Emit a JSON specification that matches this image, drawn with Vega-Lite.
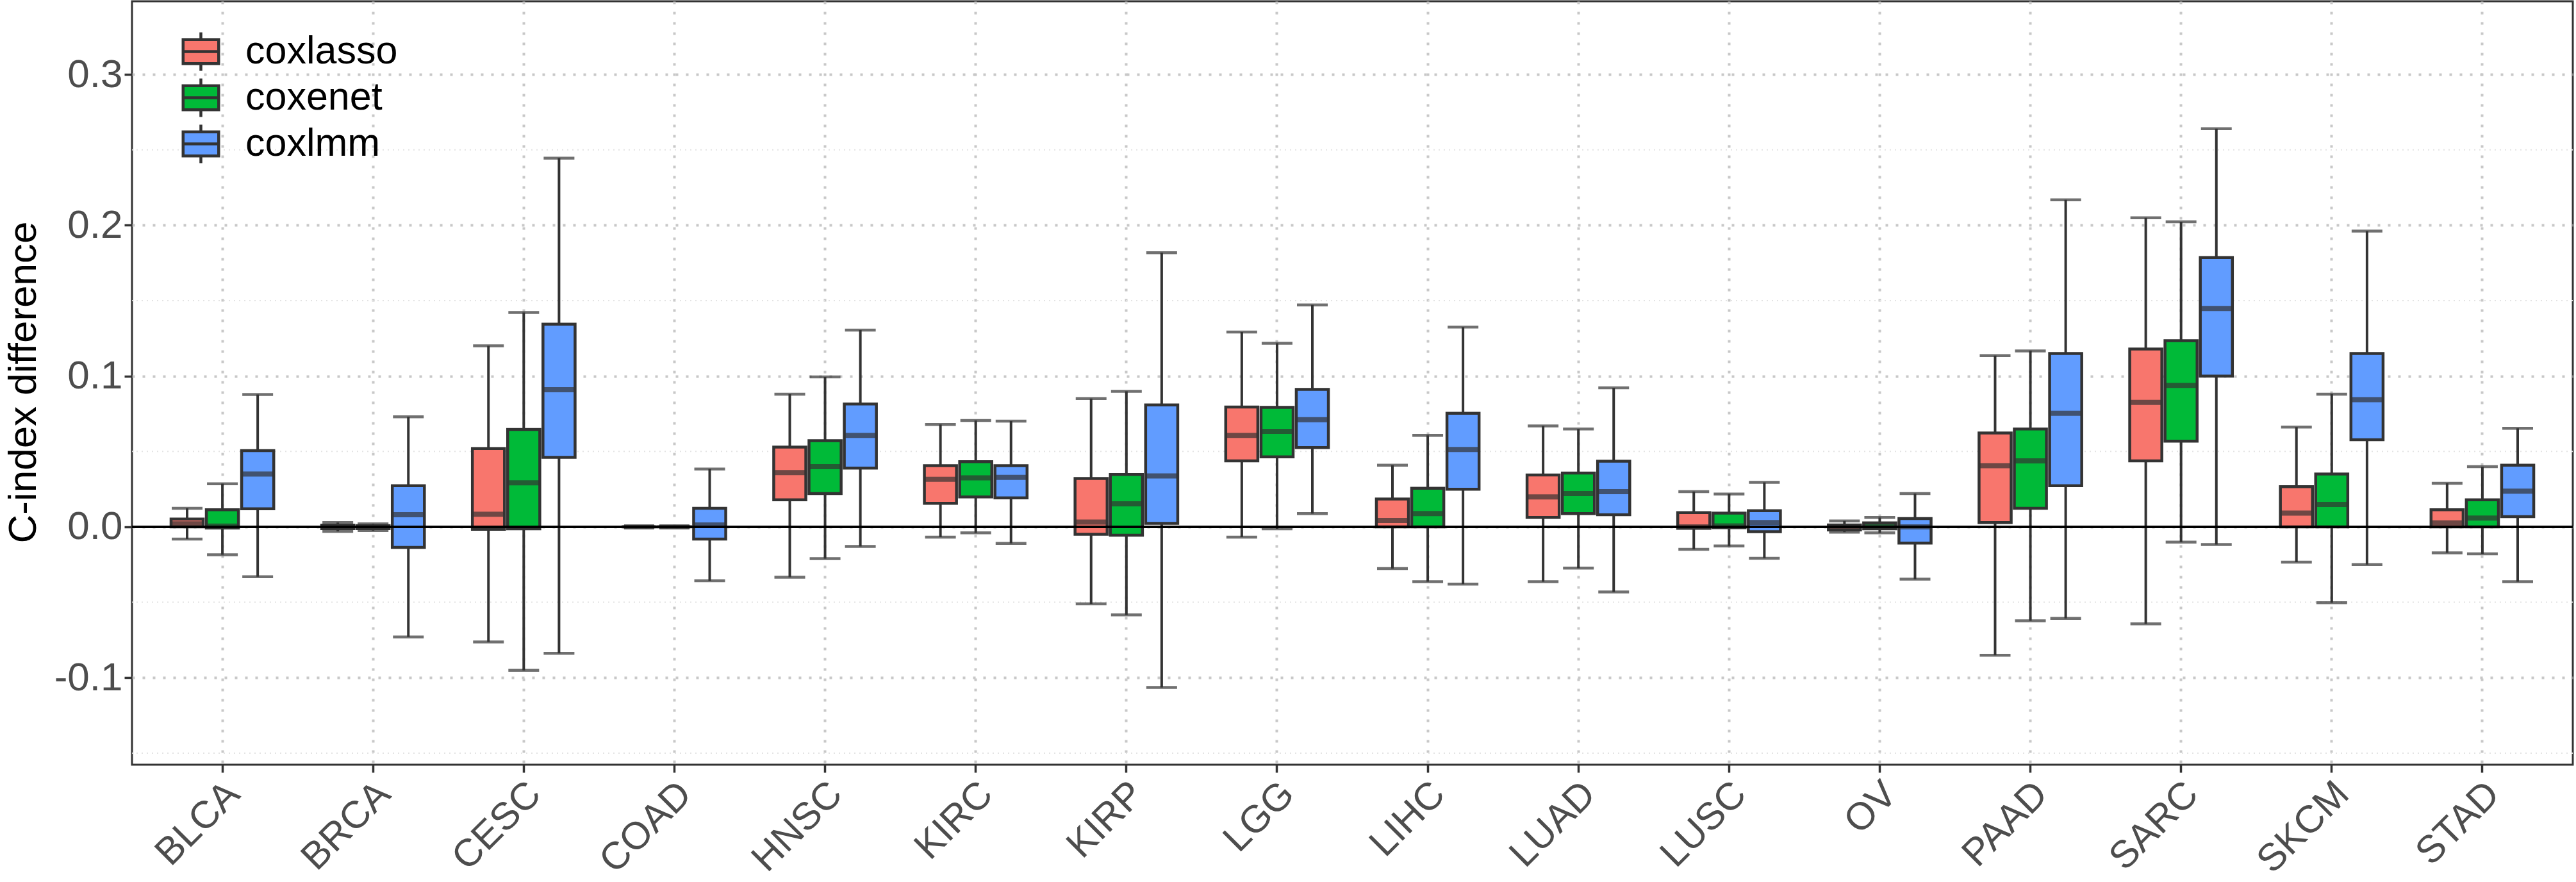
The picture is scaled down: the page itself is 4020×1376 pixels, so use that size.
{
  "$schema": "https://vega.github.io/schema/vega-lite/v6.json",
  "width": 3809,
  "height": 1191,
  "autosize": {"type": "none"},
  "padding": {"left": 206, "top": 2, "right": 5, "bottom": 183},
  "background": "white",
  "config": {
    "font": "Liberation Sans",
    "view": {"stroke": "#333333", "strokeWidth": 3},
    "axis": {
      "domain": false,
      "grid": true,
      "gridColor": "#c8c8c8",
      "gridWidth": 4,
      "gridDash": [4, 12],
      "tickColor": "#333333",
      "tickWidth": 3.5,
      "tickSize": 12,
      "labelFont": "Liberation Sans",
      "labelFontSize": 62,
      "labelColor": "#4D4D4D",
      "titleFont": "Liberation Sans",
      "titleFontWeight": "normal",
      "titleColor": "#000000"
    }
  },
  "data": {
    "values": [
      {"c": "BLCA", "m": "coxlasso", "lo": -0.0081, "q1": 0.0, "med": 0.002, "q3": 0.0052, "hi": 0.0123},
      {"c": "BLCA", "m": "coxenet", "lo": -0.0185, "q1": -0.0008, "med": 0.0005, "q3": 0.0114, "hi": 0.0286},
      {"c": "BLCA", "m": "coxlmm", "lo": -0.0331, "q1": 0.012, "med": 0.0351, "q3": 0.0506, "hi": 0.0877},
      {"c": "BRCA", "m": "coxlasso", "lo": -0.003, "q1": -0.0012, "med": 0.0, "q3": 0.0012, "hi": 0.0029},
      {"c": "BRCA", "m": "coxenet", "lo": -0.0025, "q1": -0.0012, "med": 0.0, "q3": 0.0008, "hi": 0.002},
      {"c": "BRCA", "m": "coxlmm", "lo": -0.073, "q1": -0.0136, "med": 0.0081, "q3": 0.0273, "hi": 0.073},
      {"c": "CESC", "m": "coxlasso", "lo": -0.0763, "q1": -0.0016, "med": 0.0084, "q3": 0.0519, "hi": 0.1201},
      {"c": "CESC", "m": "coxenet", "lo": -0.0951, "q1": -0.0013, "med": 0.0292, "q3": 0.0646, "hi": 0.1422},
      {"c": "CESC", "m": "coxlmm", "lo": -0.0838, "q1": 0.0461, "med": 0.0909, "q3": 0.1344, "hi": 0.2445},
      {"c": "COAD", "m": "coxlasso", "lo": -0.0002, "q1": 0.0, "med": 0.0, "q3": 0.0001, "hi": 0.0003},
      {"c": "COAD", "m": "coxenet", "lo": -0.0002, "q1": 0.0, "med": 0.0, "q3": 0.0001, "hi": 0.0003},
      {"c": "COAD", "m": "coxlmm", "lo": -0.0357, "q1": -0.0081, "med": 0.0013, "q3": 0.0123, "hi": 0.0383},
      {"c": "HNSC", "m": "coxlasso", "lo": -0.0334, "q1": 0.0179, "med": 0.036, "q3": 0.0529, "hi": 0.088},
      {"c": "HNSC", "m": "coxenet", "lo": -0.0211, "q1": 0.0221, "med": 0.0399, "q3": 0.0571, "hi": 0.0994},
      {"c": "HNSC", "m": "coxlmm", "lo": -0.013, "q1": 0.039, "med": 0.0607, "q3": 0.0815, "hi": 0.1305},
      {"c": "KIRC", "m": "coxlasso", "lo": -0.0068, "q1": 0.0156, "med": 0.0315, "q3": 0.0406, "hi": 0.0679},
      {"c": "KIRC", "m": "coxenet", "lo": -0.0039, "q1": 0.0198, "med": 0.0325, "q3": 0.0432, "hi": 0.0705},
      {"c": "KIRC", "m": "coxlmm", "lo": -0.011, "q1": 0.0192, "med": 0.0328, "q3": 0.0406, "hi": 0.0701},
      {"c": "KIRP", "m": "coxlasso", "lo": -0.051, "q1": -0.0049, "med": 0.0032, "q3": 0.0321, "hi": 0.0851},
      {"c": "KIRP", "m": "coxenet", "lo": -0.0584, "q1": -0.0055, "med": 0.0153, "q3": 0.0347, "hi": 0.0899},
      {"c": "KIRP", "m": "coxlmm", "lo": -0.1065, "q1": 0.0023, "med": 0.0338, "q3": 0.0808, "hi": 0.1818},
      {"c": "LGG", "m": "coxlasso", "lo": -0.0068, "q1": 0.0438, "med": 0.0607, "q3": 0.0795, "hi": 0.1292},
      {"c": "LGG", "m": "coxenet", "lo": -0.0013, "q1": 0.0464, "med": 0.0633, "q3": 0.0792, "hi": 0.1218},
      {"c": "LGG", "m": "coxlmm", "lo": 0.0088, "q1": 0.0526, "med": 0.0711, "q3": 0.0912, "hi": 0.1471},
      {"c": "LIHC", "m": "coxlasso", "lo": -0.0276, "q1": 0.0, "med": 0.0042, "q3": 0.0185, "hi": 0.0409},
      {"c": "LIHC", "m": "coxenet", "lo": -0.0364, "q1": 0.0, "med": 0.0088, "q3": 0.0256, "hi": 0.0607},
      {"c": "LIHC", "m": "coxlmm", "lo": -0.038, "q1": 0.025, "med": 0.0513, "q3": 0.0753, "hi": 0.1325},
      {"c": "LUAD", "m": "coxlasso", "lo": -0.0364, "q1": 0.0062, "med": 0.0198, "q3": 0.0344, "hi": 0.0669},
      {"c": "LUAD", "m": "coxenet", "lo": -0.0273, "q1": 0.0088, "med": 0.0221, "q3": 0.0357, "hi": 0.0649},
      {"c": "LUAD", "m": "coxlmm", "lo": -0.0432, "q1": 0.0081, "med": 0.0234, "q3": 0.0435, "hi": 0.0922},
      {"c": "LUSC", "m": "coxlasso", "lo": -0.0149, "q1": -0.001, "med": 0.0, "q3": 0.0094, "hi": 0.0234},
      {"c": "LUSC", "m": "coxenet", "lo": -0.0127, "q1": -0.0006, "med": 0.0006, "q3": 0.0091, "hi": 0.0218},
      {"c": "LUSC", "m": "coxlmm", "lo": -0.0208, "q1": -0.0032, "med": 0.0029, "q3": 0.0107, "hi": 0.0295},
      {"c": "OV", "m": "coxlasso", "lo": -0.0035, "q1": -0.002, "med": -0.0003, "q3": 0.0013, "hi": 0.0039},
      {"c": "OV", "m": "coxenet", "lo": -0.0039, "q1": -0.0013, "med": 0.0013, "q3": 0.0026, "hi": 0.0062},
      {"c": "OV", "m": "coxlmm", "lo": -0.0347, "q1": -0.0107, "med": 0.0, "q3": 0.0055, "hi": 0.0221},
      {"c": "PAAD", "m": "coxlasso", "lo": -0.0851, "q1": 0.0029, "med": 0.0406, "q3": 0.0623, "hi": 0.1136},
      {"c": "PAAD", "m": "coxenet", "lo": -0.0623, "q1": 0.0123, "med": 0.0438, "q3": 0.0649, "hi": 0.1166},
      {"c": "PAAD", "m": "coxlmm", "lo": -0.0607, "q1": 0.0273, "med": 0.0753, "q3": 0.1149, "hi": 0.2169},
      {"c": "SARC", "m": "coxlasso", "lo": -0.0643, "q1": 0.0438, "med": 0.0825, "q3": 0.1179, "hi": 0.2049},
      {"c": "SARC", "m": "coxenet", "lo": -0.0101, "q1": 0.0568, "med": 0.0938, "q3": 0.1234, "hi": 0.2023},
      {"c": "SARC", "m": "coxlmm", "lo": -0.0117, "q1": 0.1, "med": 0.1448, "q3": 0.1786, "hi": 0.264},
      {"c": "SKCM", "m": "coxlasso", "lo": -0.0234, "q1": 0.0, "med": 0.0091, "q3": 0.0266, "hi": 0.0662},
      {"c": "SKCM", "m": "coxenet", "lo": -0.0503, "q1": 0.0, "med": 0.0149, "q3": 0.0351, "hi": 0.088},
      {"c": "SKCM", "m": "coxlmm", "lo": -0.025, "q1": 0.0578, "med": 0.0844, "q3": 0.1149, "hi": 0.1961},
      {"c": "STAD", "m": "coxlasso", "lo": -0.0172, "q1": 0.0, "med": 0.0026, "q3": 0.0114, "hi": 0.0289},
      {"c": "STAD", "m": "coxenet", "lo": -0.0179, "q1": 0.0, "med": 0.0058, "q3": 0.0179, "hi": 0.0399},
      {"c": "STAD", "m": "coxlmm", "lo": -0.0364, "q1": 0.0068, "med": 0.0237, "q3": 0.0409, "hi": 0.0653}
    ]
  },
  "encoding": {
    "x": {
      "field": "c",
      "type": "nominal",
      "sort": null,
      "scale": {"paddingInner": 0, "paddingOuter": 0.1},
      "axis": {
        "title": null,
        "bandPosition": 0.5,
        "labelAngle": -45,
        "labelAlign": "right",
        "labelBaseline": "alphabetic",
        "labelFontSize": 60,
        "labelPadding": 37,
        "labelOffset": 30
      }
    },
    "xOffset": {
      "field": "m",
      "type": "nominal",
      "sort": ["coxlasso", "coxenet", "coxlmm"],
      "scale": {"paddingInner": 0.09, "paddingOuter": 0.68}
    }
  },
  "layer": [
    {
      "data": {"values": [{"g": 0.25}, {"g": 0.15}, {"g": 0.05}, {"g": -0.05}, {"g": -0.15}]},
      "mark": {"type": "rule", "color": "#e3e3e3", "strokeWidth": 2, "strokeDash": [2, 6]},
      "encoding": {
        "x": null,
        "xOffset": null,
        "y": {"field": "g", "type": "quantitative"}
      }
    },
    {
      "mark": {"type": "rule", "color": "#333333", "strokeWidth": 4},
      "encoding": {
        "y": {
          "field": "lo",
          "type": "quantitative",
          "scale": {"domain": [-0.1577, 0.3485], "nice": false, "zero": false},
          "axis": {
            "title": "C-index difference",
            "titleFontSize": 62,
            "titleX": -151,
            "titleY": 594,
            "titleAngle": -90,
            "titleAlign": "center",
            "titleBaseline": "alphabetic",
            "values": [-0.1, 0, 0.1, 0.2, 0.3],
            "labelPadding": 3,
            "labelExpr": "datum.value < 0 ? '-' + format(-datum.value, '.1f') : format(datum.value, '.1f')"
          }
        },
        "y2": {"field": "hi"}
      }
    },
    {
      "mark": {"type": "tick", "color": "#333333", "thickness": 4.5, "size": 48, "orient": "horizontal"},
      "encoding": {"y": {"field": "lo", "type": "quantitative"}}
    },
    {
      "mark": {"type": "tick", "color": "#333333", "thickness": 4.5, "size": 48, "orient": "horizontal"},
      "encoding": {"y": {"field": "hi", "type": "quantitative"}}
    },
    {
      "mark": {"type": "bar", "stroke": "#333333", "strokeWidth": 4.5},
      "encoding": {
        "y": {"field": "q1", "type": "quantitative"},
        "y2": {"field": "q3"},
        "fill": {
          "field": "m",
          "type": "nominal",
          "scale": {
            "domain": ["coxlasso", "coxenet", "coxlmm"],
            "range": ["#F8766D", "#00BA38", "#619CFF"]
          },
          "legend": {
            "title": null,
            "orient": "none",
            "legendX": 75,
            "legendY": 46,
            "padding": 0,
            "rowPadding": -9,
            "symbolType": "M-0.925,-0.625H0.925V0.625H-0.925Z M-0.925,0H0.925 M0,-0.625V-1 M0,0.625V1",
            "symbolSize": 3600,
            "symbolStrokeColor": "#333333",
            "symbolStrokeWidth": 4.5,
            "symbolOpacity": 1,
            "labelFont": "Liberation Sans",
            "labelFontSize": 61,
            "labelLimit": 0,
            "labelColor": "#000000",
            "labelOffset": 37
          }
        }
      }
    },
    {
      "mark": {"type": "tick", "color": "#333333", "thickness": 8, "size": 47, "orient": "horizontal"},
      "encoding": {"y": {"field": "med", "type": "quantitative"}}
    },
    {
      "mark": {"type": "rule", "color": "#000000", "strokeWidth": 3.5},
      "encoding": {"x": null, "xOffset": null, "y": {"datum": 0}}
    }
  ]
}
